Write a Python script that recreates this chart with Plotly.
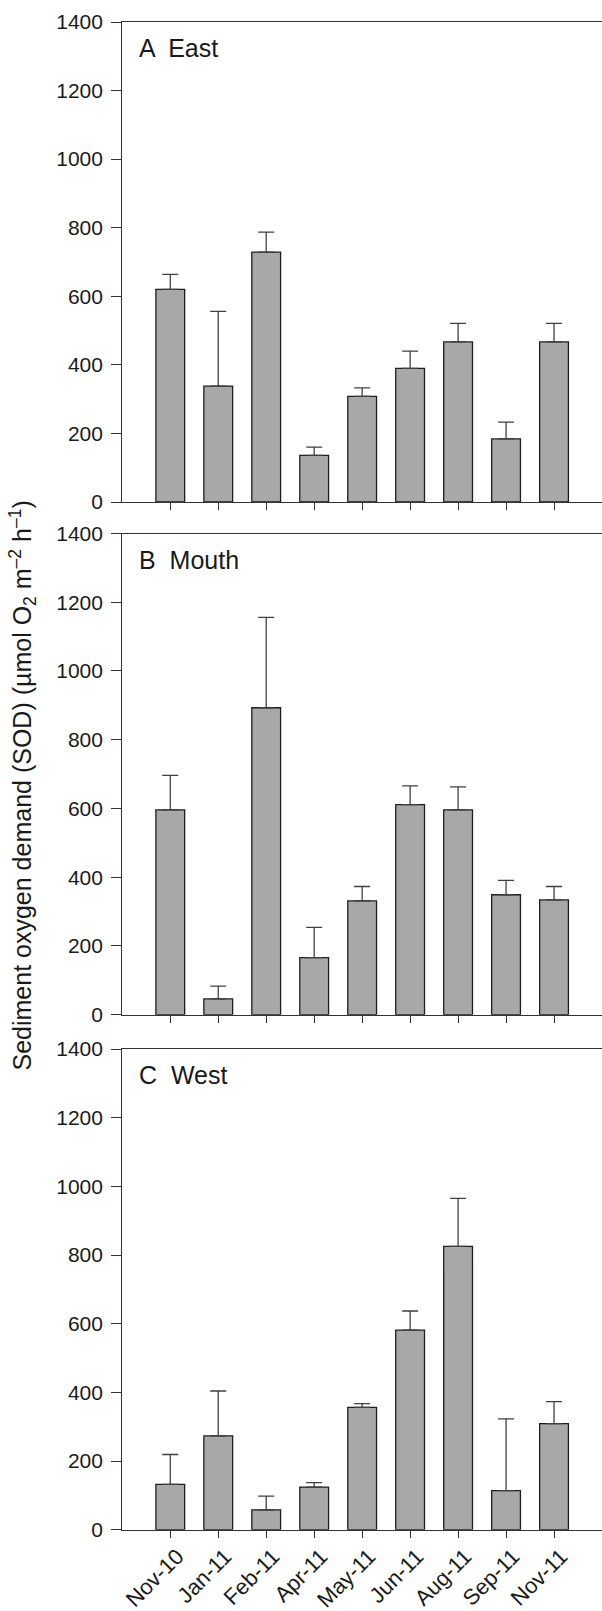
import plotly.graph_objects as go

months = ["Nov-10", "Jan-11", "Feb-11", "Apr-11", "May-11", "Jun-11", "Aug-11", "Sep-11", "Nov-11"]

east_mean = [620, 338, 729, 136, 308, 390, 467, 184, 467]
east_err = [44, 218, 58, 24, 25, 50, 54, 49, 54]

mouth_mean = [596, 46, 893, 166, 331, 611, 596, 349, 334]
mouth_err = [100, 37, 263, 88, 42, 55, 67, 42, 39]

west_mean = [132, 273, 58, 124, 356, 581, 825, 114, 309]
west_err = [87, 131, 40, 13, 11, 56, 140, 209, 64]

panel_labels = ["A  East", "B  Mouth", "C  West"]
y_ticks = [0, 200, 400, 600, 800, 1000, 1200, 1400]

W, H = 602, 1611
FONT = "Liberation Sans, Arial, Helvetica, sans-serif"

# panel pixel extents (top, bottom)
panels_px = [(22, 502), (533.5, 1014.7), (1049, 1529.7)]
x_left_px = 122.3

series = [(east_mean, east_err), (mouth_mean, mouth_err), (west_mean, west_err)]

fig = go.Figure()
xcat = list(range(len(months)))

for i, (m, e) in enumerate(series):
    suffix = "" if i == 0 else str(i + 1)
    fig.add_trace(go.Bar(
        x=xcat, y=m,
        width=0.6,
        marker=dict(color="#a8a8a8", line=dict(color="#1e1e1e", width=1.3)),
        error_y=dict(type="data", array=e, symmetric=False, arrayminus=[0] * len(e),
                     color="#404040", thickness=1.3, width=8),
        xaxis="x" + suffix, yaxis="y" + suffix,
        showlegend=False,
    ))

layout = dict(
    width=W, height=H,
    margin=dict(l=0, r=0, t=0, b=0),
    paper_bgcolor="white", plot_bgcolor="white",
    font=dict(family=FONT, size=21, color="#1a1a1a"),
)

for i, (top, bot) in enumerate(panels_px):
    suffix = "" if i == 0 else str(i + 1)
    ydom = [1 - bot / H, 1 - top / H]
    xa = dict(
        domain=[x_left_px / W, 1],
        anchor="y" + suffix,
        range=[-1, 9],
        tickvals=xcat,
        showticklabels=(i == 2),
        ticks="outside", ticklen=7, tickwidth=1.2, tickcolor="#333",
        showline=True, linecolor="#333", linewidth=1.3, mirror=True,
        showgrid=False, zeroline=False,
        automargin=False,
    )
    if i == 2:
        xa.update(ticktext=months, tickangle=-45, ticklabelstandoff=-3,
                  ticklabelshift=7,
                  tickfont=dict(family=FONT, size=22, color="#1a1a1a"))
    layout["xaxis" + suffix] = xa
    layout["yaxis" + suffix] = dict(
        domain=ydom,
        anchor="x" + suffix,
        range=[0, 1400],
        tickvals=y_ticks,
        ticks="outside", ticklen=10, tickwidth=1.2, tickcolor="#333",
        ticklabelstandoff=4,
        showline=True, linecolor="#333", linewidth=1.3,
        showgrid=False, zeroline=False,
        tickfont=dict(family=FONT, size=21, color="#1a1a1a"),
        automargin=False,
    )

fig.update_layout(**layout)

annotations = []
for i, (top, bot) in enumerate(panels_px):
    annotations.append(dict(
        text=panel_labels[i], xref="paper", yref="paper",
        x=137 / W, y=1 - (top + 26) / H, xanchor="left", yanchor="middle",
        showarrow=False, font=dict(family=FONT, size=25, color="#1a1a1a"),
    ))

annotations.append(dict(
    text="Sediment oxygen demand (SOD) (µmol O<sub>2</sub> m<sup>–2</sup> h<sup>–1</sup>)",
    xref="paper", yref="paper", x=22 / W, y=1 - 785.5 / H,
    xanchor="center", yanchor="middle", textangle=-90, showarrow=False,
    font=dict(family=FONT, size=25, color="#1a1a1a"),
))
fig.update_layout(annotations=annotations)

fig.write_html("out.html", config={"displayModeBar": False},
               post_script="document.body.style.margin='0';document.body.style.padding='0';")
